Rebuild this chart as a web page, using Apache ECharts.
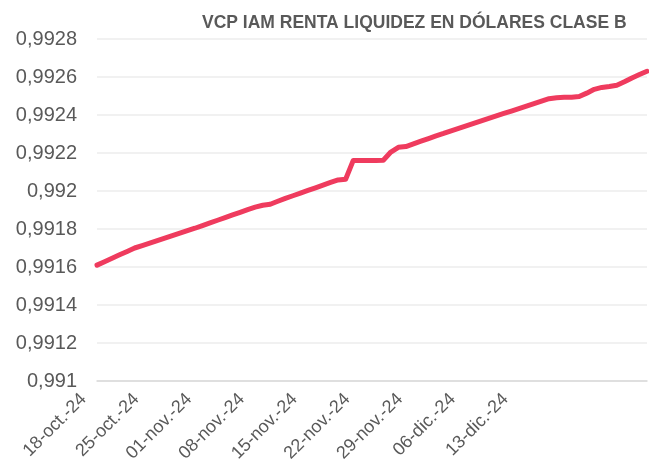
<!DOCTYPE html>
<html>
<head>
<meta charset="utf-8">
<script src="https://cdn.jsdelivr.net/npm/echarts@6/dist/echarts.min.js"></script>
<style>
  html, body { margin: 0; padding: 0; background: #fff; }
  #chart { width: 649px; height: 476px; }
</style>
</head>
<body>
<div id="chart"></div>
<script>
// daily dates, 18-oct-24 .. 30-dic-24
const categories = [
  '18-oct.-24', '19-oct.-24', '20-oct.-24', '21-oct.-24', '22-oct.-24', '23-oct.-24', '24-oct.-24',
  '25-oct.-24', '26-oct.-24', '27-oct.-24', '28-oct.-24', '29-oct.-24', '30-oct.-24', '31-oct.-24',
  '01-nov.-24', '02-nov.-24', '03-nov.-24', '04-nov.-24', '05-nov.-24', '06-nov.-24', '07-nov.-24',
  '08-nov.-24', '09-nov.-24', '10-nov.-24', '11-nov.-24', '12-nov.-24', '13-nov.-24', '14-nov.-24',
  '15-nov.-24', '16-nov.-24', '17-nov.-24', '18-nov.-24', '19-nov.-24', '20-nov.-24', '21-nov.-24',
  '22-nov.-24', '23-nov.-24', '24-nov.-24', '25-nov.-24', '26-nov.-24', '27-nov.-24', '28-nov.-24',
  '29-nov.-24', '30-nov.-24', '01-dic.-24', '02-dic.-24', '03-dic.-24', '04-dic.-24', '05-dic.-24',
  '06-dic.-24', '07-dic.-24', '08-dic.-24', '09-dic.-24', '10-dic.-24', '11-dic.-24', '12-dic.-24',
  '13-dic.-24', '14-dic.-24', '15-dic.-24', '16-dic.-24', '17-dic.-24', '18-dic.-24', '19-dic.-24',
  '20-dic.-24', '21-dic.-24', '22-dic.-24', '23-dic.-24', '24-dic.-24', '25-dic.-24', '26-dic.-24',
  '27-dic.-24', '28-dic.-24', '29-dic.-24', '30-dic.-24'
]

// VCP values
const vcp = [
  0.991610, 0.991628, 0.991646, 0.991664, 0.991682, 0.991700, 0.991713,
  0.991726, 0.991739, 0.991752, 0.991765, 0.991778, 0.991791, 0.991804,
  0.991818, 0.991832, 0.991846, 0.991860, 0.991874, 0.991888, 0.991902,
  0.991915, 0.991925, 0.991930, 0.991946, 0.991961, 0.991975, 0.991989,
  0.992003, 0.992017, 0.992031, 0.992045, 0.992058, 0.992062, 0.992160,
  0.992160, 0.992160, 0.992160, 0.992162, 0.992205, 0.992230, 0.992234,
  0.992248, 0.992262, 0.992276, 0.992290, 0.992303, 0.992317, 0.992330,
  0.992343, 0.992356, 0.992369, 0.992382, 0.992395, 0.992408, 0.992421,
  0.992434, 0.992447, 0.992460, 0.992473, 0.992486, 0.992491, 0.992493,
  0.992494, 0.992497, 0.992515, 0.992535, 0.992545, 0.992550, 0.992557,
  0.992575, 0.992595, 0.992613, 0.992630
]

// labels shown on the x axis
const xTickLabels = [
  '18-oct.-24', '25-oct.-24', '01-nov.-24', '08-nov.-24', '15-nov.-24',
  '22-nov.-24', '29-nov.-24', '06-dic.-24', '13-dic.-24'
]

const yMin = 0.991
const yMax = 0.9928
const yStep = 0.0002

const grey = '#595959'
const font = 'Liberation Sans, Arial, sans-serif'

const chart = echarts.init(document.getElementById('chart'))

chart.setOption({
  animation: false,
  backgroundColor: '#fff',
  title: {
    text: 'VCP IAM RENTA LIQUIDEZ EN DÓLARES CLASE B',
    left: 197,
    top: 9,
    textStyle: { color: grey, fontFamily: font, fontSize: 17.5, fontWeight: 'bold' }
  },
  grid: { left: 97, right: 2, top: 39, bottom: 95, containLabel: false },
  xAxis: {
    type: 'category',
    data: categories,
    boundaryGap: false,
    axisLine: { lineStyle: { color: '#d9d9d9', width: 1.5 } },
    axisTick: { show: false },
    axisLabel: {
      interval: (i, v) => xTickLabels.includes(v),
      rotate: 45,
      color: grey,
      fontFamily: font,
      fontSize: 18,
      margin: 2,
      padding: [0, 19, 0, 0]
    },
    splitLine: { show: false }
  },
  yAxis: {
    type: 'value',
    min: yMin,
    max: yMax,
    interval: yStep,
    axisLine: { show: false },
    axisTick: { show: false },
    axisLabel: {
      color: grey,
      fontFamily: font,
      fontSize: 20,
      margin: 20,
      formatter: (v) => v.toFixed(4).replace(/0+$/, '').replace('.', ',')
    },
    splitLine: { lineStyle: { color: '#ededed', width: 1.5 } }
  },
  series: [
    {
      type: 'line',
      data: vcp,
      showSymbol: false,
      lineStyle: { color: '#ef3b5e', width: 5, cap: 'round', join: 'round' }
    }
  ]
})
</script>
</body>
</html>
